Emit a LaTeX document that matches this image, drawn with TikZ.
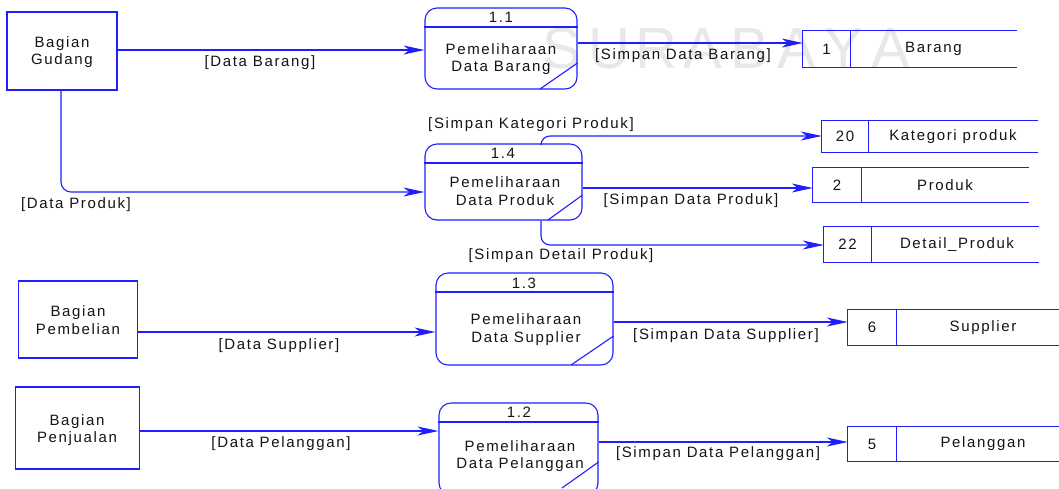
\documentclass[tikz,border=0pt]{standalone}
\usepackage{fontspec}
\setmainfont{Liberation Sans}[LetterSpace=11]
\newfontfamily\markfont{Liberation Sans}
\usetikzlibrary{arrows.meta}
\definecolor{flowblue}{RGB}{30,30,255}
\definecolor{ink}{RGB}{20,20,20}
\definecolor{markgray}{RGB}{232,232,232}
\tikzset{
  line/.style={draw=flowblue, line width=1.1pt},
  flow/.style={line, -{Stealth[length=21pt,width=9pt,inset=6pt]}},
  txt/.style={text=ink, font=\fontsize{15}{17.5}\selectfont, align=center, inner sep=0pt},
  entity/.style={line, rectangle, inner sep=0pt},
  proc/.style={line, rectangle, rounded corners=12pt, inner sep=0pt},
  cell/.style={rectangle, inner sep=0pt},
  wmletter/.style={text=markgray, font=\markfont\fontsize{58}{58}\selectfont, anchor=base, inner sep=0pt},
}
% open-ended data store: left edge, divider and two rails running to the right
\newcommand\storeframe[2]{%
  \draw[line] (#2 |- #1.north) -- (#1.north west) -- (#1.south west) -- (#2 |- #1.south);
  \draw[line] (#1.north east) -- (#1.south east);
}
\begin{document}
\begin{tikzpicture}[x=1pt, y=-1pt]
\clip (0,0) rectangle (1059,488);
\fill[white] (0,0) rectangle (1059,488);

% watermark lettering
\foreach \ch [count=\i from 0] in {S,U,R,A,B,A,Y,A}
  \node[wmletter] (wm\i) at (562+47*\i,68) {\ch};

% external entities
\node[entity, minimum width=110pt, minimum height=78pt] (gudang) at (62,51) {};
\node[txt] (gudangt) at (62,52) {Bagian\\Gudang};
\node[entity, minimum width=119pt, minimum height=77pt] (beli) at (78,319.5) {};
\node[txt] (belit) at (78,320) {Bagian\\Pembelian};
\node[entity, minimum width=124pt, minimum height=82pt] (jual) at (77.5,428) {};
\node[txt] (jualt) at (77,430) {Bagian\\Penjualan};

% processes
\node[proc, minimum width=152pt, minimum height=81pt] (p11) at (501,48.5) {};
\draw[line] (p11.west |- 0,27) coordinate (p11a) -- (p11.east |- 0,27) coordinate (p11b);
\draw[line] (540,89) coordinate (p11c) -- (p11.east |- 0,63) coordinate (p11d);
\node[txt] (p11n) at (501,17) {1.1};
\node[txt] (p11t) at (501,59) {Pemeliharaan\\Data Barang};

\node[proc, minimum width=157pt, minimum height=76pt] (p14) at (503.5,182) {};
\draw[line] (p14.west |- 0,163) coordinate (p14a) -- (p14.east |- 0,163) coordinate (p14b);
\draw[line] (548,220) coordinate (p14c) -- (p14.east |- 0,195) coordinate (p14d);
\node[txt] (p14n) at (503,153) {1.4};
\node[txt] (p14t) at (505,191) {Pemeliharaan\\Data Produk};

\node[proc, minimum width=177pt, minimum height=92pt] (p13) at (524.5,319) {};
\draw[line] (p13.west |- 0,292) coordinate (p13a) -- (p13.east |- 0,292) coordinate (p13b);
\draw[line] (571,365) coordinate (p13c) -- (p13.east |- 0,336) coordinate (p13d);
\node[txt] (p13n) at (524,283) {1.3};
\node[txt] (p13t) at (526,329.5) {Pemeliharaan\\Data Supplier};

\node[proc, minimum width=159pt, minimum height=92pt] (p12) at (518.5,449) {};
\draw[line] (p12.west |- 0,422) coordinate (p12a) -- (p12.east |- 0,422) coordinate (p12b);
\draw[line] (562,488) coordinate (p12c) -- (p12.east |- 0,462) coordinate (p12d);
\node[txt] (p12n) at (519,412) {1.2};
\node[txt] (p12t) at (520,456) {Pemeliharaan\\Data Pelanggan};

% data stores
\node[cell, minimum width=47pt, minimum height=36pt] (s1) at (826.5,49) {};
\coordinate (s1end) at (1017,0);
\storeframe{s1}{s1end}
\node[txt] (s1n) at (s1.center) {1};
\node[txt] (s1t) at (933.5,49) {Barang};

\node[cell, minimum width=46pt, minimum height=31pt] (s20) at (845,136.5) {};
\coordinate (s20end) at (1038,0);
\storeframe{s20}{s20end}
\node[txt] (s20n) at (s20.center) {20};
\node[txt] (s20t) at (953,136.5) {Kategori produk};

\node[cell, minimum width=48pt, minimum height=34pt] (s2) at (837,185) {};
\coordinate (s2end) at (1029,0);
\storeframe{s2}{s2end}
\node[txt] (s2n) at (s2.center) {2};
\node[txt] (s2t) at (945,185) {Produk};

\node[cell, minimum width=47pt, minimum height=35pt] (s22) at (847.5,244.5) {};
\coordinate (s22end) at (1039,0);
\storeframe{s22}{s22end}
\node[txt] (s22n) at (s22.center) {22};
\node[txt] (s22t) at (957,244.5) {Detail\_Produk};

\node[cell, minimum width=48pt, minimum height=35pt] (s6) at (872,327.5) {};
\coordinate (s6end) at (1065,0);
\storeframe{s6}{s6end}
\node[txt] (s6n) at (s6.center) {6};
\node[txt] (s6t) at (983,327.5) {Supplier};

\node[cell, minimum width=48pt, minimum height=34pt] (s5) at (872,444) {};
\coordinate (s5end) at (1065,0);
\storeframe{s5}{s5end}
\node[txt] (s5n) at (s5.center) {5};
\node[txt] (s5t) at (983,444) {Pelanggan};

% data flows
\draw[flow] (gudang.east |- 0,50) -- (p11.west |- 0,50);
\node[txt] (l1) at (260,63) {[Data Barang]};
\draw[flow, rounded corners=10pt] (gudang.south -| 61,0) -- (61,192) -- (p14.west |- 0,192);
\node[txt] (l2) at (76,205) {[Data Produk]};
\draw[flow] (p11.east |- 0,43) -- (s1.west |- 0,43);
\node[txt] (l3) at (683,56) {[Simpan Data Barang]};

\draw[flow, rounded corners=9pt] (p14.north -| 541,0) -- (541,136) -- (s20.west |- 0,136);
\node[txt] (l4) at (531,125) {[Simpan Kategori Produk]};
\draw[flow] (p14.east |- 0,188) -- (s2.west |- 0,188);
\node[txt] (l5) at (691,201) {[Simpan Data Produk]};
\draw[flow, rounded corners=9pt] (p14.south -| 541,0) -- (541,245) -- (s22.west |- 0,245);
\node[txt] (l6) at (561,256) {[Simpan Detail Produk]};

\draw[flow] (beli.east |- 0,332) -- (p13.west |- 0,332);
\node[txt] (l7) at (279,346) {[Data Supplier]};
\draw[flow] (p13.east |- 0,322) -- (s6.west |- 0,322);
\node[txt] (l8) at (726,336) {[Simpan Data Supplier]};

\draw[flow] (jual.east |- 0,431) -- (p12.west |- 0,431);
\node[txt] (l9) at (281,444) {[Data Pelanggan]};
\draw[flow] (p12.east |- 0,442) -- (s5.west |- 0,442);
\node[txt] (l10) at (718,454) {[Simpan Data Pelanggan]};
\end{tikzpicture}
\end{document}
